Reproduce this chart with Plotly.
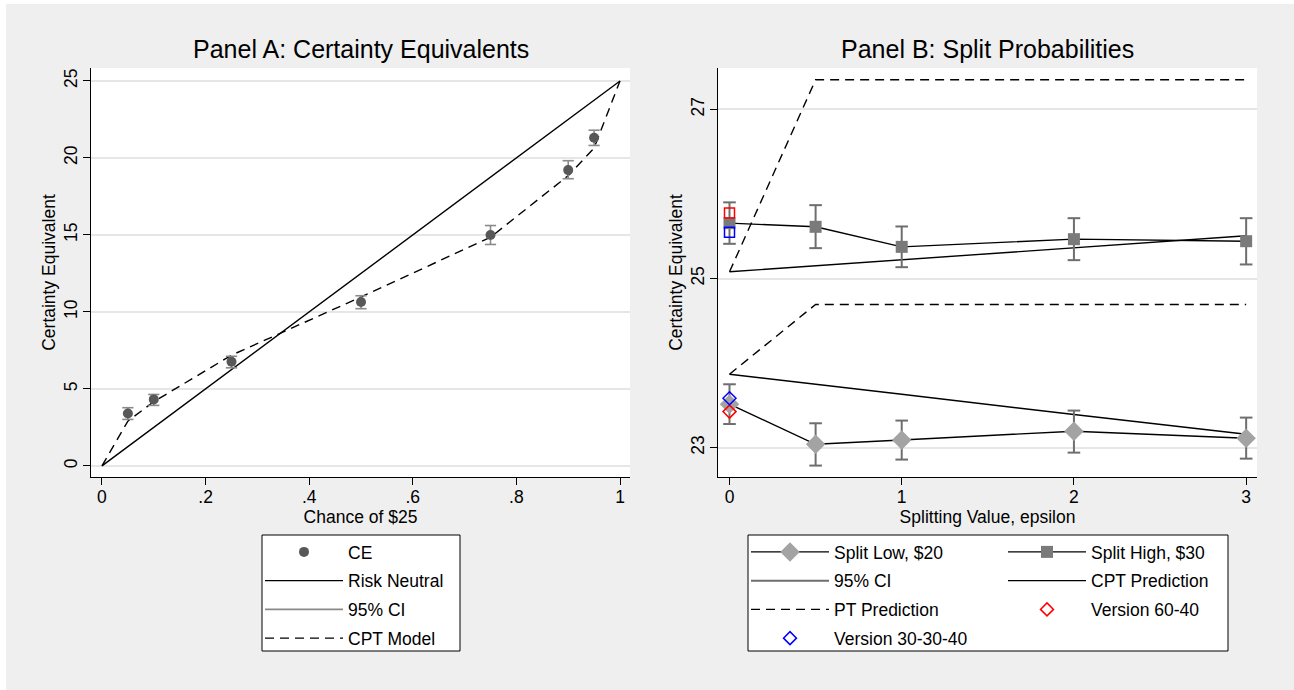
import plotly.graph_objects as go

# ---------------- data ----------------
# Panel A
chance = [0.05, 0.10, 0.25, 0.50, 0.75, 0.90, 0.95]
ce_mean = [3.40, 4.32, 6.76, 10.64, 15.00, 19.21, 21.31]
ce_lo = [3.02, 3.93, 6.37, 10.21, 14.38, 18.65, 20.81]
ce_hi = [3.78, 4.64, 7.12, 11.05, 15.61, 19.82, 21.80]
rn_x = [0, 1]
rn_y = [0, 25]
cpt_x = [0, 0.05, 0.10, 0.25, 0.50, 0.75, 0.90, 0.95, 1.0]
cpt_y = [0, 2.91, 4.17, 7.19, 10.97, 14.85, 18.85, 20.64, 25]
a_xticks = [0, 0.2, 0.4, 0.6, 0.8, 1]
a_xlabels = ["0", ".2", ".4", ".6", ".8", "1"]
a_yticks = [0, 5, 10, 15, 20, 25]

# Panel B
eps = [0, 0.5, 1, 2, 3]
low_ce = [23.514, 23.041, 23.092, 23.195, 23.112]
low_lo = [23.280, 22.789, 22.860, 22.942, 22.871]
low_hi = [23.750, 23.289, 23.321, 23.439, 23.356]
high_ce = [25.654, 25.611, 25.374, 25.465, 25.441]
high_lo = [25.410, 25.359, 25.134, 25.217, 25.166]
high_hi = [25.900, 25.867, 25.615, 25.713, 25.713]
cpt_low = [23.869, 23.754, 23.632, 23.392, 23.159]
cpt_high = [25.079, 25.150, 25.220, 25.363, 25.505]
pt_eps = [0, 0.5, 3]
pt_low = [23.869, 24.693, 24.693]
pt_high = [25.079, 27.349, 27.349]
ver_eps = [0, 0]
v6040 = [23.427, 25.773]     # low (diamond), high (square)
v303040 = [23.585, 25.548]
b_xticks = [0, 1, 2, 3]
b_yticks = [23, 25, 27]

# ---------------- helpers ----------------
W, H = 1294, 690
FONT = "Liberation Sans, Arial, Helvetica, sans-serif"
FS = 17.5
def fx(px):
    return px / W
def fy(py):
    return 1 - py / H

def segments(xs, los, his):
    sx, sy = [], []
    for x, lo, hi in zip(xs, los, his):
        sx += [x, x, None]
        sy += [lo, hi, None]
    return sx, sy

def caps(xs, los, his):
    return list(xs) + list(xs), list(los) + list(his)

fig = go.Figure()

# ---------------- Panel A ----------------
fig.add_trace(go.Scatter(x=rn_x, y=rn_y, mode="lines", name="Risk Neutral",
                         line=dict(color="black", width=1.4),
                         legend="legend", legendgroup="rn", legendrank=2,
                         xaxis="x", yaxis="y"))
fig.add_trace(go.Scatter(x=cpt_x, y=cpt_y, mode="lines", name="CPT Model",
                         line=dict(color="black", width=1.4, dash="9px,6px"),
                         legend="legend", legendgroup="cptm", legendrank=4,
                         xaxis="x", yaxis="y"))
sx, sy = segments(chance, ce_lo, ce_hi)
fig.add_trace(go.Scatter(x=sx, y=sy, mode="lines", name="95% CI",
                         line=dict(color="#8a8a8a", width=1.6),
                         legend="legend", legendgroup="cia", legendrank=3,
                         xaxis="x", yaxis="y"))
cx, cy = caps(chance, ce_lo, ce_hi)
fig.add_trace(go.Scatter(x=cx, y=cy, mode="markers", name="95% CI", showlegend=False,
                         marker=dict(symbol="line-ew", size=8,
                                     line=dict(color="#8a8a8a", width=1.6)),
                         legend="legend", legendgroup="cia",
                         xaxis="x", yaxis="y"))
fig.add_trace(go.Scatter(x=chance, y=ce_mean, mode="markers", name="CE",
                         marker=dict(symbol="circle", size=10, color="#585858"),
                         legend="legend", legendgroup="ce", legendrank=1,
                         xaxis="x", yaxis="y"))

# ---------------- Panel B ----------------
fig.add_trace(go.Scatter(x=eps, y=cpt_high, mode="lines", name="CPT Prediction",
                         line=dict(color="black", width=1.4),
                         legend="legend3", legendgroup="cpt", legendrank=2,
                         xaxis="x2", yaxis="y2"))
fig.add_trace(go.Scatter(x=eps, y=cpt_low, mode="lines", name="CPT Prediction",
                         line=dict(color="black", width=1.4), showlegend=False,
                         legend="legend3", legendgroup="cpt",
                         xaxis="x2", yaxis="y2"))
fig.add_trace(go.Scatter(x=pt_eps, y=pt_high, mode="lines", name="PT Prediction",
                         line=dict(color="black", width=1.4, dash="9px,6px"),
                         legend="legend2", legendgroup="pt", legendrank=3,
                         xaxis="x2", yaxis="y2"))
fig.add_trace(go.Scatter(x=pt_eps, y=pt_low, mode="lines", name="PT Prediction",
                         line=dict(color="black", width=1.4, dash="9px,6px"),
                         showlegend=False,
                         legend="legend2", legendgroup="pt",
                         xaxis="x2", yaxis="y2"))
sx1, sy1 = segments(eps, low_lo, low_hi)
sx2, sy2 = segments(eps, high_lo, high_hi)
fig.add_trace(go.Scatter(x=sx1 + sx2, y=sy1 + sy2, mode="lines", name="95% CI",
                         line=dict(color="#6e6e6e", width=2),
                         legend="legend2", legendgroup="cib", legendrank=2,
                         xaxis="x2", yaxis="y2"))
cx1, cy1 = caps(eps, low_lo, low_hi)
cx2, cy2 = caps(eps, high_lo, high_hi)
fig.add_trace(go.Scatter(x=cx1 + cx2, y=cy1 + cy2, mode="markers", name="95% CI",
                         showlegend=False,
                         marker=dict(symbol="line-ew", size=9,
                                     line=dict(color="#6e6e6e", width=2)),
                         legend="legend2", legendgroup="cib",
                         xaxis="x2", yaxis="y2"))
fig.add_trace(go.Scatter(x=eps, y=low_ce, mode="lines+markers", name="Split Low, $20",
                         line=dict(color="black", width=1.4),
                         marker=dict(symbol="diamond", size=15, color="#a3a3a3"),
                         legend="legend2", legendgroup="low", legendrank=1,
                         xaxis="x2", yaxis="y2"))
fig.add_trace(go.Scatter(x=eps, y=high_ce, mode="lines+markers", name="Split High, $30",
                         line=dict(color="black", width=1.4),
                         marker=dict(symbol="square", size=12, color="#7a7a7a"),
                         legend="legend3", legendgroup="high", legendrank=1,
                         xaxis="x2", yaxis="y2"))
fig.add_trace(go.Scatter(x=ver_eps, y=v6040, mode="markers", name="Version 60-40",
                         marker=dict(symbol=["diamond-open", "square-open"], size=10,
                                     color="red", line=dict(color="red", width=1.5)),
                         legend="legend3", legendgroup="v6040", legendrank=3,
                         xaxis="x2", yaxis="y2"))
fig.add_trace(go.Scatter(x=ver_eps, y=v303040, mode="markers", name="Version 30-30-40",
                         marker=dict(symbol=["diamond-open", "square-open"], size=10,
                                     color="blue", line=dict(color="blue", width=1.5)),
                         legend="legend2", legendgroup="v303040", legendrank=4,
                         xaxis="x2", yaxis="y2"))

# ---------------- layout ----------------
axis_common = dict(showline=True, linecolor="black", linewidth=1, mirror=False,
                   ticks="outside", ticklen=7, tickwidth=1, tickcolor="black",
                   tickfont=dict(family=FONT, size=FS, color="black"),
                   zeroline=False, automargin=False)
xa = dict(axis_common, showgrid=False, ticklabelstandoff=-3)
ya = dict(axis_common, showgrid=True, gridcolor="#e6e6e6", gridwidth=1.5, tickangle=-90,
          ticklabelstandoff=-1)

leg_common = dict(bgcolor="rgba(0,0,0,0)", borderwidth=0, traceorder="grouped",
                  tracegroupgap=3, itemwidth=78, xanchor="left", yanchor="top",
                  font=dict(family=FONT, size=FS, color="black"))

fig.update_layout(
    width=W, height=H,
    margin=dict(l=0, r=0, t=0, b=0),
    paper_bgcolor="#efefef", plot_bgcolor="white",
    font=dict(family=FONT, size=FS, color="black"),
    xaxis=dict(xa, domain=[fx(91), fx(630)], range=[-0.0212, 1.0193],
               tickvals=a_xticks, ticktext=a_xlabels,
               title=dict(text="Chance of $25", standoff=1,
                          font=dict(family=FONT, size=FS)), anchor="y"),
    yaxis=dict(ya, domain=[fy(477), fy(68)], range=[-0.72, 25.84],
               tickvals=a_yticks,
               title=dict(text="Certainty Equivalent", standoff=0,
                          font=dict(family=FONT, size=FS)), anchor="x"),
    xaxis2=dict(xa, domain=[fx(718), fx(1257)], range=[-0.0668, 3.063],
                tickvals=b_xticks,
                title=dict(text="Splitting Value, epsilon", standoff=1,
                           font=dict(family=FONT, size=FS)), anchor="y2"),
    yaxis2=dict(ya, domain=[fy(477), fy(68)], range=[22.654, 27.488],
                tickvals=b_yticks,
                title=dict(text="Certainty Equivalent", standoff=0,
                           font=dict(family=FONT, size=FS)), anchor="x2"),
    legend=dict(leg_common, x=fx(260), y=fy(534)),
    legend2=dict(leg_common, x=fx(746), y=fy(534)),
    legend3=dict(leg_common, x=fx(1003), y=fy(534)),
    annotations=[
        dict(text="Panel A: Certainty Equivalents", x=fx(360.5), y=fy(49),
             xref="paper", yref="paper", showarrow=False, xanchor="center", yanchor="middle",
             font=dict(family=FONT, size=25, color="black")),
        dict(text="Panel B: Split Probabilities", x=fx(987.5), y=fy(49),
             xref="paper", yref="paper", showarrow=False, xanchor="center", yanchor="middle",
             font=dict(family=FONT, size=25, color="black")),
    ],
    shapes=[
        # thin white strips at left and top edges
        dict(type="rect", xref="paper", yref="paper", x0=0, x1=fx(6), y0=0, y1=1,
             fillcolor="white", line=dict(width=0), layer="below"),
        dict(type="rect", xref="paper", yref="paper", x0=0, x1=1, y0=fy(4), y1=1,
             fillcolor="white", line=dict(width=0), layer="below"),
        # legend frames
        dict(type="rect", xref="paper", yref="paper", x0=fx(262), x1=fx(460),
             y0=fy(651), y1=fy(535), fillcolor="white",
             line=dict(color="black", width=1), layer="above"),
        dict(type="rect", xref="paper", yref="paper", x0=fx(748), x1=fx(1228),
             y0=fy(651), y1=fy(535), fillcolor="white",
             line=dict(color="black", width=1), layer="above"),
    ],
)

fig.write_html("out.html", config={"displayModeBar": False},
               post_script="document.body.style.margin='0px';"
                           "document.body.style.background='#efefef';")
